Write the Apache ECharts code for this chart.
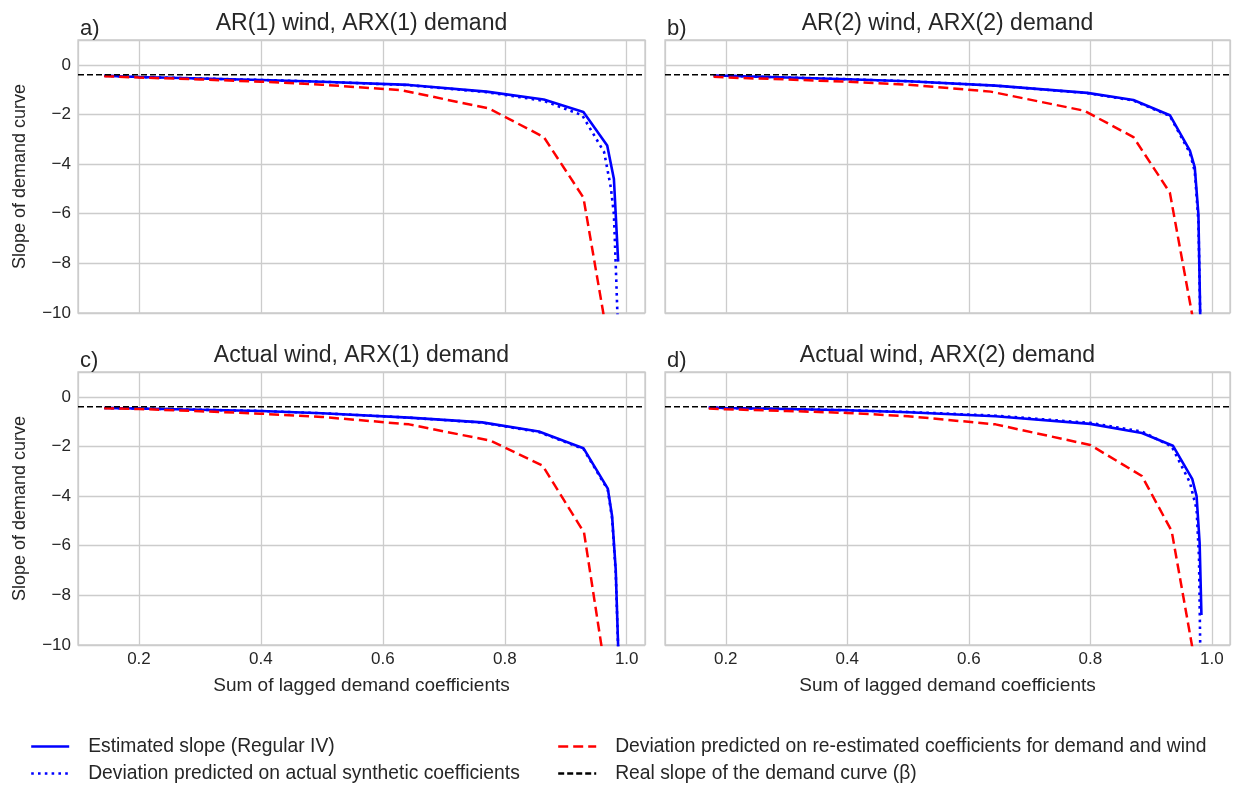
<!DOCTYPE html>
<html>
<head>
<meta charset="utf-8">
<script src="https://cdn.jsdelivr.net/npm/echarts@6/dist/echarts.min.js"></script>
<style>
  html, body { margin: 0; padding: 0; background: #fff; }
  #chart { width: 1235px; height: 786px; }
</style>
</head>
<body>
<div id="chart"></div>
<script>
// ---- Data ----
const panelTitles = ['AR(1) wind, ARX(1) demand', 'AR(2) wind, ARX(2) demand', 'Actual wind, ARX(1) demand', 'Actual wind, ARX(2) demand'];
const panelLetters = ['a)', 'b)', 'c)', 'd)'];
const seriesNames = ['Estimated slope (Regular IV)', 'Deviation predicted on actual synthetic coefficients', 'Deviation predicted on re-estimated coefficients for demand and wind', 'Real slope of the demand curve (\u03b2)'];
const beta = -0.4;
const xTicks = [0.2, 0.4, 0.6, 0.8, 1.0];
const yTicks = [0, -2, -4, -6, -8, -10];

// Panel a
const aEstX = [0.143, 0.2, 0.3, 0.4, 0.5, 0.643, 0.77, 0.864, 0.929, 0.968, 0.979, 0.986];
const aEstY = [-0.44, -0.49, -0.55, -0.61, -0.68, -0.81, -1.08, -1.40, -1.90, -3.25, -4.6, -7.93];
const aDotX = [0.143, 0.2, 0.3, 0.4, 0.5, 0.643, 0.77, 0.864, 0.927, 0.963, 0.974, 0.979, 0.982, 0.985];
const aDotY = [-0.44, -0.49, -0.55, -0.61, -0.68, -0.82, -1.10, -1.45, -2.03, -3.52, -4.95, -6.03, -8.06, -10.2];
const aRedX = [0.143, 0.2, 0.3, 0.4, 0.5, 0.63, 0.774, 0.864, 0.929, 0.963];
const aRedY = [-0.46, -0.51, -0.59, -0.68, -0.80, -1.02, -1.76, -2.91, -5.35, -10.2];

// Panel b
const bEstX = [0.18, 0.2, 0.3, 0.4, 0.5, 0.644, 0.795, 0.871, 0.931, 0.964, 0.972, 0.978, 0.981];
const bEstY = [-0.43, -0.44, -0.51, -0.58, -0.66, -0.84, -1.13, -1.42, -2.03, -3.46, -4.13, -6.03, -10.1];
const bDotX = [0.18, 0.2, 0.3, 0.4, 0.5, 0.644, 0.795, 0.871, 0.931, 0.964, 0.972, 0.978, 0.981];
const bDotY = [-0.43, -0.44, -0.51, -0.58, -0.66, -0.84, -1.14, -1.44, -2.06, -3.55, -4.3, -6.3, -10.2];
const bRedX = [0.18, 0.2, 0.3, 0.4, 0.5, 0.636, 0.79, 0.871, 0.931, 0.968];
const bRedY = [-0.48, -0.51, -0.59, -0.68, -0.80, -1.08, -1.85, -2.91, -5.15, -10.1];

// Panel c
const cEstX = [0.143, 0.2, 0.3, 0.4, 0.5, 0.643, 0.763, 0.856, 0.929, 0.969, 0.976, 0.982, 0.986];
const cEstY = [-0.45, -0.47, -0.52, -0.57, -0.66, -0.84, -1.03, -1.40, -2.07, -3.70, -4.8, -6.96, -10.1];
const cDotX = [0.143, 0.2, 0.3, 0.4, 0.5, 0.643, 0.763, 0.856, 0.929, 0.969, 0.976, 0.982, 0.986];
const cDotY = [-0.45, -0.47, -0.52, -0.57, -0.66, -0.84, -1.04, -1.42, -2.10, -3.75, -4.9, -7.1, -10.2];
const cRedX = [0.143, 0.2, 0.3, 0.4, 0.5, 0.643, 0.777, 0.862, 0.93, 0.959];
const cRedY = [-0.46, -0.49, -0.58, -0.68, -0.81, -1.11, -1.77, -2.77, -5.47, -10.1];

// Panel d
const dEstX = [0.172, 0.2, 0.3, 0.4, 0.5, 0.644, 0.8, 0.885, 0.936, 0.968, 0.975, 0.98, 0.983];
const dEstY = [-0.43, -0.45, -0.49, -0.54, -0.62, -0.78, -1.09, -1.46, -1.97, -3.32, -4.0, -5.88, -8.79];
const dDotX = [0.172, 0.2, 0.3, 0.4, 0.5, 0.644, 0.8, 0.885, 0.934, 0.964, 0.975, 0.979, 0.981];
const dDotY = [-0.43, -0.45, -0.49, -0.54, -0.61, -0.76, -1.05, -1.40, -2.0, -3.45, -4.53, -6.5, -10.1];
const dRedX = [0.172, 0.2, 0.3, 0.4, 0.5, 0.644, 0.8, 0.885, 0.934, 0.968];
const dRedY = [-0.47, -0.5, -0.57, -0.65, -0.78, -1.11, -1.94, -3.19, -5.41, -10.1];

const xRange = [0.1, 1.03];
const yRange = [-10, 1];

// ---- Build ----
const FONT = '"Liberation Sans", Arial, Helvetica, sans-serif';
const TXT = '#262626';
const GRIDC = '#cccccc';

const panels = [
  { est: [aEstX, aEstY], dot: [aDotX, aDotY], red: [aRedX, aRedY] },
  { est: [bEstX, bEstY], dot: [bDotX, bDotY], red: [bRedX, bRedY] },
  { est: [cEstX, cEstY], dot: [cDotX, cDotY], red: [cRedX, cRedY] },
  { est: [dEstX, dEstY], dot: [dDotX, dDotY], red: [dRedX, dRedY] }
];

const grids = [
  { left: 78, top: 40, width: 567, height: 273 },
  { left: 665, top: 40, width: 565, height: 273 },
  { left: 78, top: 372, width: 567, height: 273 },
  { left: 665, top: 372, width: 565, height: 273 }
].map(g => Object.assign({ show: true, borderColor: GRIDC, borderWidth: 1.3, backgroundColor: '#fff' }, g));

const minus = v => String(v).replace('-', '\u2212');

const xAxes = grids.map((g, i) => ({
  type: 'value', gridIndex: i, min: xRange[0], max: xRange[1],
  minInterval: 0.2, maxInterval: 0.2,
  axisLine: { show: false }, axisTick: { show: false },
  splitLine: { show: true, lineStyle: { color: GRIDC, width: 1.3 } },
  axisLabel: {
    show: i >= 2, showMinLabel: false, showMaxLabel: false, margin: 6,
    fontFamily: FONT, fontSize: 17, color: TXT,
    formatter: v => xTicks.some(t => Math.abs(t - v) < 1e-6) ? v.toFixed(1) : ''
  },
  name: i >= 2 ? 'Sum of lagged demand coefficients' : '',
  nameLocation: 'middle', nameGap: 31,
  nameTextStyle: { fontFamily: FONT, fontSize: 19, color: TXT }
}));

const yAxes = grids.map((g, i) => ({
  type: 'value', gridIndex: i, min: yRange[0], max: yRange[1], interval: 2,
  axisLine: { show: false }, axisTick: { show: false },
  splitLine: { show: true, lineStyle: { color: GRIDC, width: 1.3 } },
  axisLabel: {
    show: i % 2 === 0, showMaxLabel: false, margin: 7,
    fontFamily: FONT, fontSize: 17, color: TXT,
    formatter: v => yTicks.includes(v) ? minus(v) : ''
  },
  name: i % 2 === 0 ? 'Slope of demand curve' : '',
  nameLocation: 'middle', nameGap: 49, nameRotate: 90,
  nameTextStyle: { fontFamily: FONT, fontSize: 18, color: TXT }
}));

const styles = [
  { color: '#0000ff', width: 2.6, type: 'solid' },
  { color: '#0000ff', width: 2.6, type: [2.6, 4.2] },
  { color: '#ff0000', width: 2.5, type: [10, 5] },
  { color: '#000000', width: 1.6, type: [6, 3] }
];

const series = [];
panels.forEach((p, i) => {
  const sets = [p.est, p.dot, p.red, [xRange, [beta, beta]]];
  sets.forEach((s, k) => {
    series.push({
      name: seriesNames[k], type: 'line', xAxisIndex: i, yAxisIndex: i,
      data: s[0].map((x, j) => [x, s[1][j]]),
      symbol: 'none', showSymbol: false, clip: true, animation: false, z: 2 + k,
      lineStyle: { color: styles[k].color, width: styles[k].width, type: styles[k].type },
      itemStyle: { color: styles[k].color, opacity: 0 }
    });
  });
});

const titles = [];
grids.forEach((g, i) => {
  titles.push({
    text: panelTitles[i], left: g.left + g.width / 2, top: g.top - 28, textAlign: 'center', padding: 0,
    textStyle: { fontFamily: FONT, fontSize: 23, fontWeight: 'normal', color: TXT }
  });
  titles.push({
    text: panelLetters[i], left: g.left + 2, top: g.top - 22, padding: 0,
    textStyle: { fontFamily: FONT, fontSize: 22, fontWeight: 'normal', color: TXT }
  });
});

const legendCommon = {
  orient: 'vertical', itemWidth: 38, itemHeight: 14, itemGap: 8, padding: 0,
  height: 70,
  lineStyle: { width: 2.4 },
  textStyle: { fontFamily: FONT, fontSize: 19.3, color: TXT, padding: [0, 0, 0, 14] },
  selectedMode: false
};

const option = {
  backgroundColor: '#fff',
  animation: false,
  title: titles,
  grid: grids,
  xAxis: xAxes,
  yAxis: yAxes,
  legend: [
    Object.assign({ left: 30, top: 737, data: [seriesNames[0], seriesNames[1]] }, legendCommon),
    Object.assign({ left: 557, top: 737, data: [seriesNames[2], seriesNames[3]] }, legendCommon)
  ],
  series: series
};

const chart = echarts.init(document.getElementById('chart'), null, { renderer: 'canvas' });
chart.setOption(option);
</script>
</body>
</html>
